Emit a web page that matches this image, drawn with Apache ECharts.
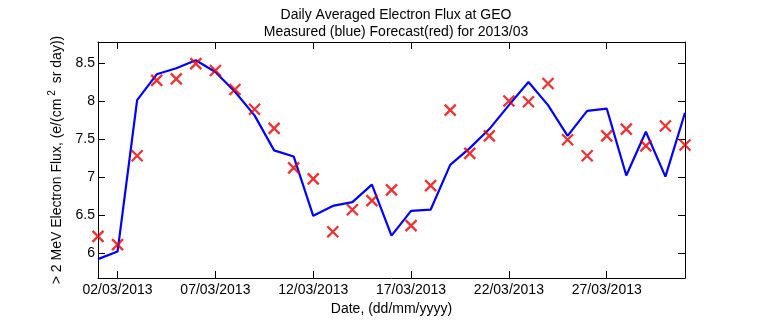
<!DOCTYPE html>
<html>
<head>
<meta charset="utf-8">
<script src="https://cdn.jsdelivr.net/npm/echarts@6/dist/echarts.min.js"></script>
<style>
html,body{margin:0;padding:0;background:#fff;}
#c{width:757px;height:324px;}
</style>
</head>
<body>
<div id="c"></div>
<script>
const dates = ['01/03/2013','02/03/2013','03/03/2013','04/03/2013','05/03/2013','06/03/2013','07/03/2013','08/03/2013','09/03/2013','10/03/2013','11/03/2013','12/03/2013','13/03/2013','14/03/2013','15/03/2013','16/03/2013','17/03/2013','18/03/2013','19/03/2013','20/03/2013','21/03/2013','22/03/2013','23/03/2013','24/03/2013','25/03/2013','26/03/2013','27/03/2013','28/03/2013','29/03/2013','30/03/2013','31/03/2013'];
const measured = [5.92, 6.02, 8.01, 8.35, 8.43, 8.535, 8.38, 8.12, 7.81, 7.35, 7.27, 6.49, 6.62, 6.67, 6.90, 6.23, 6.555, 6.57, 7.16, 7.38, 7.63, 7.945, 8.25, 7.945, 7.54, 7.87, 7.90, 7.02, 7.595, 7.005, 7.845];
const forecast = [6.22, 6.11, 7.28, 8.27, 8.29, 8.49, 8.40, 8.15, 7.89, 7.64, 7.12, 6.975, 6.28, 6.57, 6.69, 6.83, 6.36, 6.887, 7.88, 7.31, 7.54, 8.0, 7.99, 8.23, 7.49, 7.28, 7.54, 7.63, 7.41, 7.67, 7.42];
const yTicks = [6, 6.5, 7, 7.5, 8, 8.5];
const xTickLabels = ['02/03/2013','07/03/2013','12/03/2013','17/03/2013','22/03/2013','27/03/2013'];
const yMin = 5.672, yMax = 8.775;

const FONT = '"Liberation Sans", Arial, sans-serif';
const showTick = (i) => xTickLabels.indexOf(dates[i]) >= 0;

const chart = echarts.init(document.getElementById('c'), null, {renderer: 'canvas'});
const axisLine = {show: true, lineStyle: {color: '#000', width: 1}};
chart.setOption({
  animation: false,
  backgroundColor: '#fff',
  title: {
    text: 'Daily Averaged Electron Flux at GEO\nMeasured (blue) Forecast(red) for 2013/03',
    left: 391, textAlign: 'center', top: 2,
    textStyle: {fontFamily: FONT, fontSize: 14, fontWeight: 'normal', color: '#000', lineHeight: 17}
  },
  grid: {left: 98, right: 72, top: 42, bottom: 46, containLabel: false, outerBoundsMode: 'none'},
  xAxis: [{
    type: 'category', data: dates, boundaryGap: false, position: 'bottom',
    axisLine: axisLine,
    axisTick: {show: true, inside: true, length: 7, interval: (i) => showTick(i), lineStyle: {color: '#000'}},
    axisLabel: {interval: (i) => showTick(i), fontFamily: FONT, fontSize: 14, color: '#000', margin: 5},
    splitLine: {show: false},
    name: 'Date, (dd/mm/yyyy)', nameLocation: 'middle', nameGap: 22,
    nameTextStyle: {fontFamily: FONT, fontSize: 14, color: '#000'}
  }, {
    type: 'category', data: dates, boundaryGap: false, position: 'top',
    axisLine: axisLine,
    axisTick: {show: true, inside: true, length: 7, interval: (i) => showTick(i), lineStyle: {color: '#000'}},
    axisLabel: {show: false}, splitLine: {show: false}
  }],
  yAxis: [{
    type: 'value', min: yMin, max: yMax, position: 'left',
    axisLine: axisLine,
    axisTick: {show: true, inside: true, length: 7, customValues: yTicks, lineStyle: {color: '#000'}},
    axisLabel: {customValues: yTicks, fontFamily: FONT, fontSize: 14, color: '#000', margin: 3},
    splitLine: {show: false},
    name: '{n|> 2 MeV Electron Flux, (e/(cm}{sup|2}{n| sr day))}',
    nameLocation: 'middle', nameGap: 26, nameRotate: 90,
    nameTextStyle: {
      fontFamily: FONT, fontSize: 14, color: '#000',
      rich: {
        n: {fontFamily: FONT, fontSize: 14, color: '#000'},
        sup: {fontFamily: FONT, fontSize: 10, color: '#000', padding: [0, 3, 10, 3]}
      }
    }
  }, {
    type: 'value', min: yMin, max: yMax, position: 'right',
    axisLine: axisLine,
    axisTick: {show: true, inside: true, length: 7, customValues: yTicks, lineStyle: {color: '#000'}},
    axisLabel: {show: false}, splitLine: {show: false}
  }],
  series: [{
    name: 'Measured', type: 'line', data: measured, xAxisIndex: 0, yAxisIndex: 0,
    symbol: 'none', lineStyle: {color: '#0000ff', width: 2.2}, z: 2
  }, {
    name: 'Forecast', type: 'scatter', data: forecast, xAxisIndex: 0, yAxisIndex: 0,
    symbol: 'path://M0,0L10,10M10,0L0,10', symbolSize: 11,
    itemStyle: {color: 'rgba(0,0,0,0)', borderColor: '#e60000', borderWidth: 2.3}, z: 3
  }]
});
</script>
</body>
</html>
